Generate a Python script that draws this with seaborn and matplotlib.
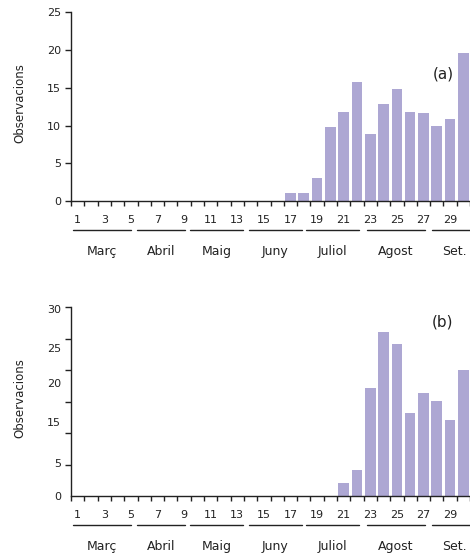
import matplotlib
matplotlib.use("Agg")
import matplotlib.pyplot as plt
import seaborn as sns
import pandas as pd
import numpy as np

sns.set_theme(style="ticks")
plt.rcParams['font.family'] = ['DejaVu Sans']

# ---- data ----
weeks = list(range(1, 31))
obs_a = [0]*16 + [1, 1, 3, 9.8, 11.8, 15.8, 8.9, 12.9, 14.8, 11.8, 11.7, 10, 10.9, 19.6]
obs_b = [0]*20 + [2.1, 4.2, 17.1, 26.1, 24.1, 13.2, 16.3, 15.1, 12.1, 20.1]
week_labels = [str(w) for w in range(1, 31, 2)]
months = ["Març", "Abril", "Maig", "Juny", "Juliol", "Agost", "Set."]
month_start = [0.65, 5.46, 9.45, 13.88, 18.17, 22.76, 27.64]
month_end = [5.0, 9.07, 13.43, 17.87, 22.15, 27.10, 30.96]
yticks_a = [0, 5, 10, 15, 20, 25]
yticks_b = [0, 5, 10, 15, 20, 25, 30]
ylabels_b = ["0", "5", "15", "20", "25", "30"]
ylabel_pos_b = [0, 5.25, 11.8, 18.0, 23.5, 29.7]

BAR = "#ADA7D3"
W, H = 470, 556
fig = plt.figure(figsize=(W/100, H/100), dpi=100)

def make_ax(top_px, bottom_px):
    left = 71 / W
    width = 399 / W
    b = (H - bottom_px) / H
    h = (bottom_px - top_px) / H
    return fig.add_axes([left, b, width, h])

ax_a = make_ax(12.3, 201)
ax_b = make_ax(307.3, 496)

def draw(ax, vals, ymax, tag, tag_y):
    df = pd.DataFrame({"week": weeks, "obs": vals})
    sns.barplot(data=df, x="week", y="obs", color=BAR, saturation=1,
                width=0.8, ax=ax, edgecolor="none")
    ax.set_xlim(-0.5, 29.5)
    ax.set_ylim(0, ymax)
    sns.despine(ax=ax)
    for sp in ('left', 'bottom'):
        ax.spines[sp].set_linewidth(1.0)
        ax.spines[sp].set_color("#222222")
    # x ticks: labels at odd weeks (centers), marks at boundaries
    ax.set_xticks([w - 1 for w in range(1, 31, 2)], week_labels)
    ax.tick_params(axis='x', which='major', length=0, pad=10, labelsize=8,
                   colors="#222222")
    ax.set_xticks(np.arange(-0.5, 30, 1.0), minor=True)
    ax.tick_params(axis='x', which='minor', length=3.5, width=1, color="#222222")
    ax.set_xlabel("")
    ax.set_ylabel("Observacions", fontsize=8.5, color="#222222")
    ax.yaxis.set_label_coords(-0.112, 0.52)
    ax.tick_params(axis='y', labelsize=8, length=4, width=1, pad=3,
                   colors="#222222")
    trans = ax.get_xaxis_transform()
    for m, s, e in zip(months, month_start, month_end):
        ax.plot([s - 1, e - 1], [-0.156, -0.156], transform=trans,
                color="#222222", lw=1.0, clip_on=False)
        ax.text((s + e) / 2 - 1, -0.269, m, transform=trans, ha="center",
                va="center", fontsize=9, color="#222222")
    ax.text(0.932, tag_y, tag, transform=ax.transAxes, ha="center",
            va="center", fontsize=11, color="#222222")

draw(ax_a, obs_a, 25, "(a)", 0.673)
ax_a.set_yticks(yticks_a, [str(v) for v in yticks_a])

draw(ax_b, obs_b, 30, "(b)", 0.924)
ax_b.set_yticks(ylabel_pos_b, ylabels_b)
ax_b.tick_params(axis='y', which='major', length=0, pad=7)
ax_b.set_yticks(yticks_b, minor=True)
ax_b.tick_params(axis='y', which='minor', length=4, width=1, color="#222222",
                 left=True)

fig.savefig("out.png", dpi=100)
